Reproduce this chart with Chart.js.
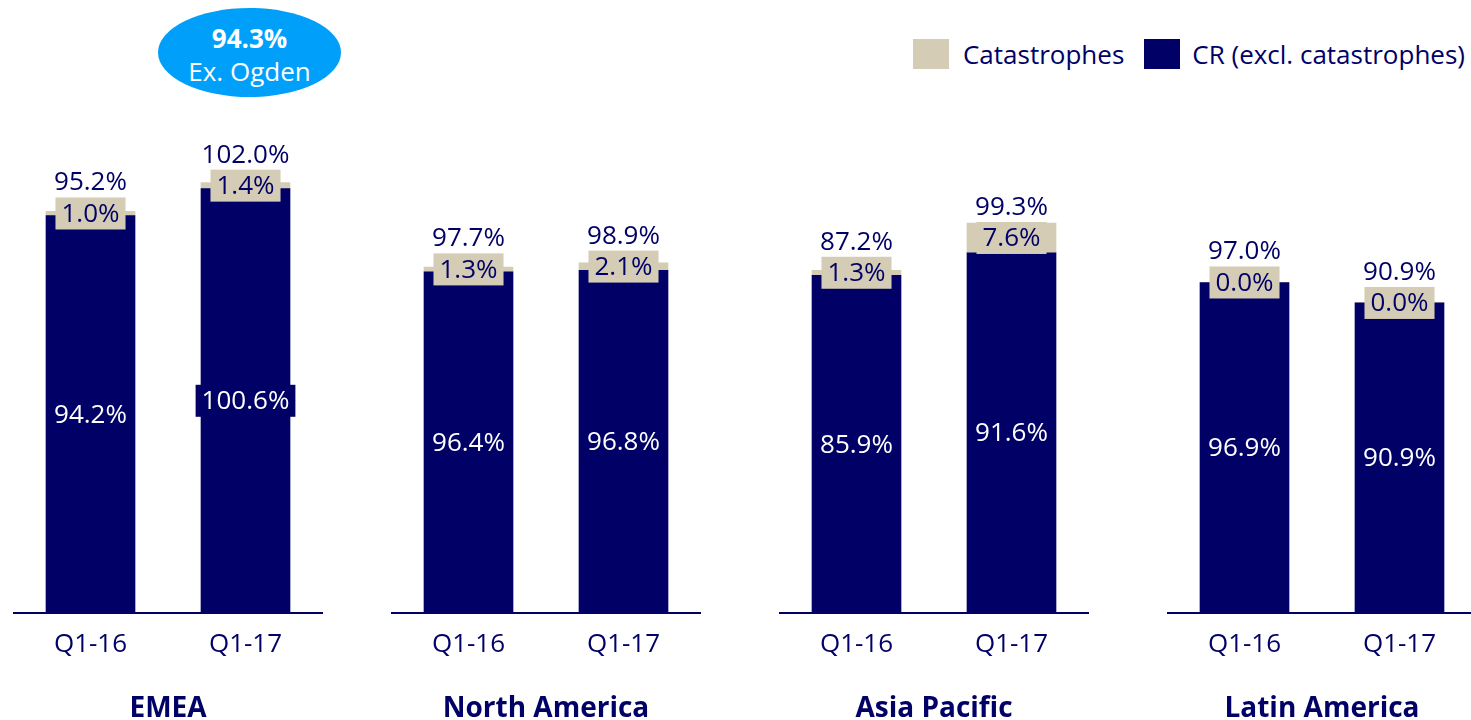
<!DOCTYPE html>
<html>
<head>
<meta charset="utf-8">
<script src="https://cdn.jsdelivr.net/npm/chart.js@4/dist/chart.umd.min.js"></script>
<style>
html,body{margin:0;padding:0;width:1471px;height:720px;overflow:hidden;background:#fff;font-family:"Open Sans",sans-serif;}
canvas.panel{position:absolute;top:0;}
#legend{position:absolute;top:37px;right:6px;height:34px;display:flex;align-items:center;font-size:26px;color:#000066;white-space:nowrap;}
#legend .sw{width:36px;height:30px;display:inline-block;}
#bubble{position:absolute;left:158px;top:8px;width:183px;height:89px;border-radius:50%;background:#00A0FA;color:#fff;
  display:flex;flex-direction:column;align-items:center;justify-content:center;font-size:26px;line-height:33px;box-sizing:border-box;padding-top:4px;}
#bubble b{font-weight:700;}
</style>
</head>
<body>
<div id="bubble"><b>94.3%</b><span>Ex. Ogden</span></div>
<div id="legend">
  <span class="sw" style="background:#D4CCB4"></span><span style="margin:0 20px 0 14px">Catastrophes</span>
  <span class="sw" style="background:#000066"></span><span style="margin-left:12px">CR (excl. catastrophes)</span>
</div>
<canvas class="panel" id="c0"></canvas>
<canvas class="panel" id="c1"></canvas>
<canvas class="panel" id="c2"></canvas>
<canvas class="panel" id="c3"></canvas>
<script>
// ---- data ----
const regions = ['EMEA', 'North America', 'Asia Pacific', 'Latin America'];
const periods = ['Q1-16', 'Q1-17'];
const crExclCat = [[94.2, 100.6], [96.4, 96.8], [85.9, 91.6], [96.9, 90.9]];
const catastrophes = [[1.0, 1.4], [1.3, 2.1], [1.3, 7.6], [0.0, 0.0]];
const totals = [[95.2, 102.0], [97.7, 98.9], [87.2, 99.3], [97.0, 90.9]];
const yAxisMax = [121.6, 144.9, 130.5, 150.4];

// ---- layout / style ----
const NAVY = '#000066';
const BEIGE = '#D4CCB4';
const FONT = '"Open Sans", sans-serif';
const panelLeft = [13, 391, 779, 1167];
const PANEL_W = 310;
const CANVAS_H = 726;
const AREA_TOP = 100;
const AREA_BOTTOM = 613;

const fmt = v => v.toFixed(1) + '%';

const labelPlugin = {
  id: 'barLabels',
  afterDatasetsDraw(chart, args, opts) {
    const ctx = chart.ctx;
    const m0 = chart.getDatasetMeta(0), m1 = chart.getDatasetMeta(1);
    ctx.save();
    ctx.font = '26px ' + FONT;
    ctx.textAlign = 'center';
    ctx.textBaseline = 'middle';
    m0.data.forEach((el, i) => {
      const t = fmt(chart.data.datasets[0].data[i]);
      const w = ctx.measureText(t).width + 12;
      const cy = (el.y + el.base) / 2;
      ctx.fillStyle = NAVY;
      ctx.fillRect(el.x - w / 2, cy - 16, w, 32);
      ctx.fillStyle = '#fff';
      ctx.fillText(t, el.x, cy + 1);
    });
    m1.data.forEach((el, i) => {
      const t = fmt(chart.data.datasets[1].data[i]);
      const w = ctx.measureText(t).width + 12;
      const cy = (el.y + el.base) / 2;
      const boxTop = cy - 16;
      ctx.fillStyle = BEIGE;
      ctx.fillRect(el.x - w / 2, boxTop, w, 32);
      ctx.fillStyle = NAVY;
      ctx.textBaseline = 'middle';
      ctx.fillText(t, el.x, cy + 1);
      const top = Math.min(boxTop, el.y);
      ctx.textBaseline = 'alphabetic';
      ctx.fillText(fmt(opts.totals[i]), el.x, top - 7);
    });
    ctx.restore();
  }
};

regions.forEach((name, g) => {
  const cv = document.getElementById('c' + g);
  cv.width = PANEL_W; cv.height = CANVAS_H;
  cv.style.left = panelLeft[g] + 'px';
  new Chart(cv, {
    type: 'bar',
    data: {
      labels: periods,
      datasets: [
        { label: 'CR (excl. catastrophes)', data: crExclCat[g], backgroundColor: NAVY, barThickness: 89, borderWidth: 0 },
        { label: 'Catastrophes', data: catastrophes[g], backgroundColor: BEIGE, barThickness: 89, borderWidth: 0 }
      ]
    },
    options: {
      responsive: false,
      animation: false,
      events: [],
      layout: { padding: { top: AREA_TOP, left: 0, right: 0, bottom: 0 } },
      plugins: { legend: { display: false }, tooltip: { enabled: false }, barLabels: { totals: totals[g] } },
      scales: {
        x: {
          stacked: true,
          grid: { display: false, drawTicks: false },
          border: { display: true, color: NAVY, width: 2 },
          ticks: { color: NAVY, font: { family: FONT, size: 26 }, padding: 16, maxRotation: 0 },
          title: { display: true, text: name, color: NAVY, font: { family: FONT, size: 28, weight: 'bold' }, padding: { top: 0, bottom: 0 } },
          afterFit(s) { s.height = CANVAS_H - AREA_BOTTOM; }
        },
        y: { stacked: true, display: false, min: 0, max: yAxisMax[g] }
      }
    },
    plugins: [labelPlugin]
  });
});
</script>
</body>
</html>
